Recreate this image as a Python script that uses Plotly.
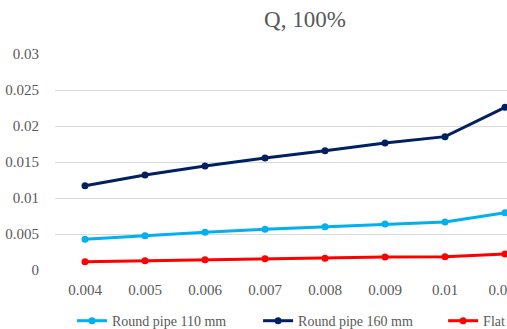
import plotly.graph_objects as go

# Roughness values on the category axis
categories = ["0.004", "0.005", "0.006", "0.007", "0.008", "0.009", "0.01", "0.011"]

# Flow values per pipe type
round_110 = [0.00426, 0.00477, 0.00523, 0.00565, 0.00602, 0.00639, 0.00667, 0.00796]
round_160 = [0.0117, 0.0132, 0.01444, 0.01556, 0.01657, 0.01764, 0.01852, 0.0226]
flat_pipe = [0.00116, 0.00130, 0.00144, 0.00157, 0.00162, 0.00180, 0.00185, 0.00222]

series = [
    ("Round pipe 110 mm", round_110, "#00B0F0", "legend", 0.142),
    ("Round pipe 160 mm", round_160, "#002060", "legend2", 0.509),
    ("Flat pipe", flat_pipe, "#FF0000", "legend3", 0.874),
]

FONT = "Liberation Serif"
GREY = "#595959"

fig = go.Figure()
for name, vals, color, leg, _ in series:
    fig.add_trace(go.Scatter(
        x=categories, y=vals, name=name, mode="lines+markers",
        line=dict(color=color, width=3),
        marker=dict(color=color, size=7),
        legend=leg, showlegend=True,
    ))

legend_common = dict(
    orientation="h", xref="container", yref="container",
    yanchor="middle", y=0.024, xanchor="left",
    font=dict(family=FONT, size=14, color=GREY),
    bgcolor="rgba(0,0,0,0)", borderwidth=0,
)

fig.update_layout(
    width=507, height=329,
    margin=dict(l=55, r=0, t=54, b=59),
    paper_bgcolor="white", plot_bgcolor="white",
    font=dict(family=FONT, color=GREY),
    showlegend=True,
    title=dict(
        text="Q, 100%", xref="container", yref="container",
        x=0.6016, y=0.943, xanchor="center", yanchor="middle",
        font=dict(family=FONT, size=23, color=GREY),
    ),
    legend=dict(legend_common, x=series[0][4]),
    legend2=dict(legend_common, x=series[1][4]),
    legend3=dict(legend_common, x=series[2][4]),
    xaxis=dict(
        type="category", range=[-0.5, 7.033], automargin=False,
        showgrid=False, zeroline=False, showline=False,
        ticks="outside", ticklen=6, tickcolor="rgba(0,0,0,0)",
        tickfont=dict(family=FONT, size=15, color=GREY),
    ),
    yaxis=dict(
        range=[0, 0.03], automargin=False,
        tickvals=[0, 0.005, 0.01, 0.015, 0.02, 0.025, 0.03],
        ticktext=["0", "0.005", "0.01", "0.015", "0.02", "0.025", "0.03"],
        showgrid=True, gridcolor="#D9D9D9", gridwidth=1,
        zeroline=False, showline=False,
        ticks="outside", ticklen=12, tickcolor="rgba(0,0,0,0)",
        tickfont=dict(family=FONT, size=15, color=GREY),
    ),
)

fig.write_html("out.html")
